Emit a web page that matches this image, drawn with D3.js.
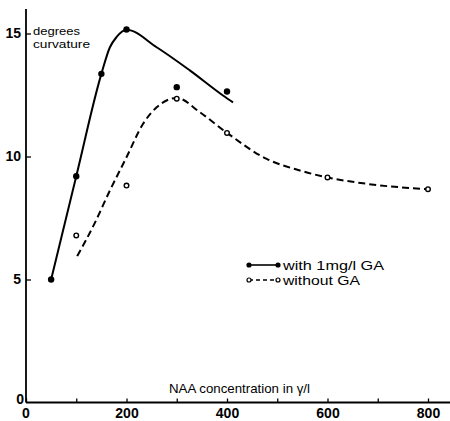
<!DOCTYPE html>
<html><head><meta charset="utf-8">
<script src="https://cdn.jsdelivr.net/npm/d3@7"></script>
<style>body{margin:0;background:#fff}svg{display:block}</style>
</head><body>
<script>
// Measured points
const withGA_x = [50, 100, 150, 200, 300, 400];
const withGA_y = [5.0, 9.2, 13.36, 15.16, 12.82, 12.64];
const withoutGA_x = [100, 200, 300, 400, 600, 800];
const withoutGA_y = [6.79, 8.82, 12.35, 10.96, 9.15, 8.67];
// Hand-drawn fitted curves
const withCurve_x = [50, 100, 150, 167, 180, 200, 260, 326, 392, 412];
const withCurve_y = [5.0, 9.2, 13.36, 14.44, 14.85, 15.15, 14.44, 13.5, 12.48, 12.2];
const withoutCurve_x = [102, 136, 167, 200, 233, 260, 300, 346, 400, 479, 545, 600, 678, 800];
const withoutCurve_y = [5.95, 7.26, 8.62, 9.97, 11.33, 12.0, 12.38, 11.8, 10.96, 9.9, 9.43, 9.15, 8.89, 8.67];
const xTickLabels = [0, 200, 400, 600, 800];
const xMinorTicks = [100, 300, 500, 700];
const yTickLabels = [0, 5, 10, 15];
const legendLabels = ["with 1mg/l GA", "without GA"];

const W = 450, H = 421;
const svg = d3.select("body").append("svg").attr("width", W).attr("height", H);
const x = d3.scaleLinear().domain([0, 800]).range([26, 428]);
const y = d3.scaleLinear().domain([0, 16]).range([402.5, 8.9]);
const font = "'Liberation Sans', Arial, sans-serif";

// axes lines
svg.append("line").attr("x1", x(0)).attr("x2", W).attr("y1", y(0)).attr("y2", y(0))
  .attr("stroke", "#000").attr("stroke-width", 1.8);
svg.append("line").attr("x1", x(0)).attr("x2", x(0)).attr("y1", y(0)).attr("y2", y(16))
  .attr("stroke", "#000").attr("stroke-width", 1.8);

// x ticks
const xAxis = d3.axisBottom(x).tickValues(xTickLabels.concat(xMinorTicks)).tickSize(-4)
  .tickFormat(d => xTickLabels.includes(d) && d !== 0 ? d : "");
const gx = svg.append("g").attr("transform", `translate(0,${y(0)})`).call(xAxis);
gx.select(".domain").remove();
gx.selectAll("line").attr("stroke-width", 1.3);
gx.selectAll("text").attr("font-family", font).attr("font-size", 14).attr("font-weight", "bold")
  .attr("fill", "#000").attr("y", 15).attr("dy", "0");
// x "0"
svg.append("text").attr("x", x(0)).attr("y", 417.5).attr("text-anchor", "middle")
  .attr("font-family", font).attr("font-size", 14).attr("font-weight", "bold").text("0");

// y ticks
const yAxis = d3.axisLeft(y).tickValues(yTickLabels).tickSize(-5).tickPadding(5);
const gy = svg.append("g").attr("transform", `translate(${x(0)},0)`).call(yAxis);
gy.select(".domain").remove();
gy.selectAll("line").attr("stroke-width", 1.3);
gy.selectAll(".tick").filter(d => d === 0).select("line").remove();
gy.selectAll("text").attr("font-family", font).attr("font-size", 14).attr("font-weight", "bold")
  .attr("fill", "#000").attr("x", -5);
gy.selectAll(".tick").filter(d => d === 0).select("text").attr("x", -2).attr("dy", "0.1em");

// axis titles
svg.append("text").attr("x", 33).attr("y", 35).attr("font-family", font).attr("font-size", 11.5)
  .attr("textLength", 47).attr("lengthAdjust", "spacingAndGlyphs").text("degrees");
svg.append("text").attr("x", 33).attr("y", 47.8).attr("font-family", font).attr("font-size", 11.5)
  .attr("textLength", 57).attr("lengthAdjust", "spacingAndGlyphs").text("curvature");
svg.append("text").attr("x", 169).attr("y", 393).attr("font-family", font).attr("font-size", 13.5)
  .attr("textLength", 141).attr("lengthAdjust", "spacingAndGlyphs").text("NAA concentration in γ/l");

// curves
const line = d3.line().x(d => x(d[0])).y(d => y(d[1])).curve(d3.curveMonotoneX);
svg.append("path").datum(d3.zip(withCurve_x, withCurve_y)).attr("d", line)
  .attr("fill", "none").attr("stroke", "#000").attr("stroke-width", 2);
svg.append("path").datum(d3.zip(withoutCurve_x, withoutCurve_y)).attr("d", line)
  .attr("fill", "none").attr("stroke", "#000").attr("stroke-width", 2).attr("stroke-dasharray", "7,4");

// points
svg.selectAll("circle.f").data(d3.zip(withGA_x, withGA_y)).join("circle").attr("class", "f")
  .attr("cx", d => x(d[0])).attr("cy", d => y(d[1])).attr("r", 3.2).attr("fill", "#000");
svg.selectAll("circle.o").data(d3.zip(withoutGA_x, withoutGA_y)).join("circle").attr("class", "o")
  .attr("cx", d => x(d[0])).attr("cy", d => y(d[1])).attr("r", 2.3)
  .attr("fill", "#fff").attr("stroke", "#000").attr("stroke-width", 1.4);

// legend
const legendWidths = [101, 77];
const lg = svg.append("g");
[0, 1].forEach(i => {
  const ly = 265 + i * 15;
  lg.append("line").attr("x1", 249).attr("x2", 278).attr("y1", ly).attr("y2", ly)
    .attr("stroke", "#000").attr("stroke-width", 1.6).attr("stroke-dasharray", i ? "4,3" : null);
  [249, 278].forEach(cx => {
    if (i === 0) lg.append("circle").attr("cx", cx).attr("cy", ly).attr("r", 2.6).attr("fill", "#000");
    else lg.append("circle").attr("cx", cx).attr("cy", ly).attr("r", 2).attr("fill", "#fff")
      .attr("stroke", "#000").attr("stroke-width", 1.2);
  });
  lg.append("text").attr("x", 283).attr("y", ly + 4.5).attr("font-family", font).attr("font-size", 13.5)
    .attr("textLength", legendWidths[i]).attr("lengthAdjust", "spacingAndGlyphs")
    .text(legendLabels[i]);
});
</script>
</body></html>
